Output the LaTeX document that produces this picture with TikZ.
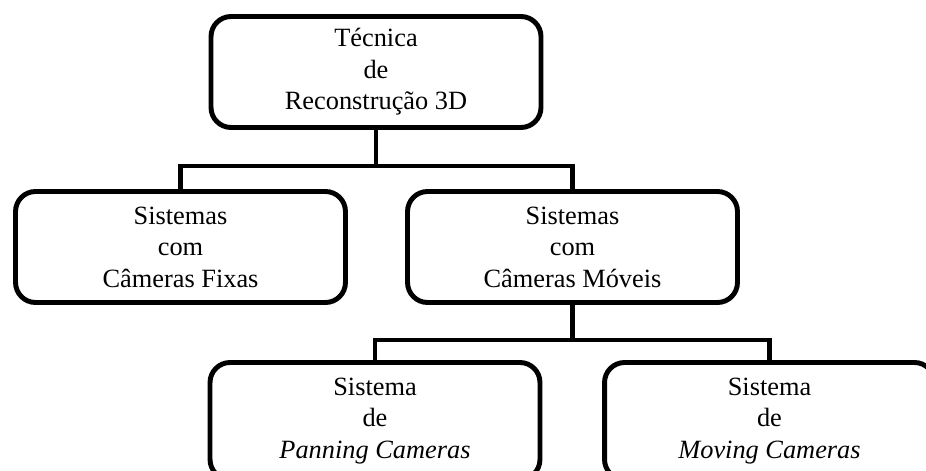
\documentclass[tikz,border=0pt]{standalone}
\usepackage{fontspec}
\setmainfont{Liberation Serif}
\usetikzlibrary{positioning}

\begin{document}
\begin{tikzpicture}[x=0.02cm, y=-0.02cm,
    block/.style={draw=black, line width=2.8pt, rounded corners=0.4cm,
        minimum width=6.6cm, minimum height=2.22cm, align=center,
        font=\fontsize{15}{17.9}\selectfont},
    link/.style={draw=black, line width=2.6pt}]

\useasboundingbox (0,0) rectangle (926,470);

\node[block](p0) at (376,72){Técnica\\de\\Reconstrução 3D};
\node[block](p1) at (180.5,247){Sistemas\\com\\Câmeras Fixas};
\node[block](p2) at (572.5,247){Sistemas\\com\\Câmeras Móveis};
\node[block, minimum height=2.34cm](p3) at (375,421){Sistema\\de\\\textit{Panning Cameras}};
\node[block, minimum height=2.34cm](p4) at (769.5,421){Sistema\\de\\\textit{Moving Cameras}};

\coordinate (j0) at (376,166);
\coordinate (j1) at (572.5,340);

\draw[link] (p0.south) -- (j0);
\draw[link] (p1.north) |- (j0) -| (p2.north);
\draw[link] (p2.south) -- (j1);
\draw[link] (p3.north) |- (j1) -| (p4.north);

\end{tikzpicture}
\end{document}
